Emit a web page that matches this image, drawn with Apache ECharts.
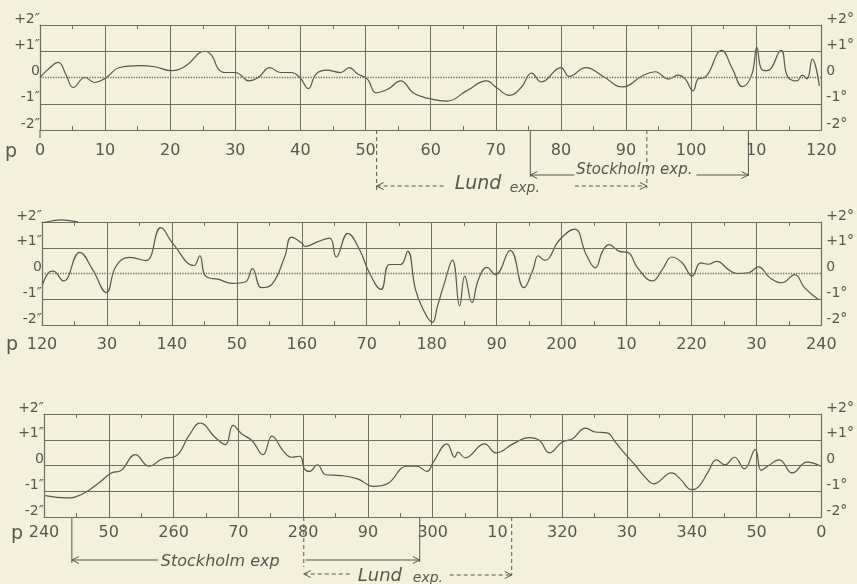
<!DOCTYPE html>
<html><head><meta charset="utf-8">
<script src="https://cdn.jsdelivr.net/npm/echarts@6/dist/echarts.min.js"></script>
<style>html,body{margin:0;padding:0;background:#f3f1da;}#c{width:857px;height:584px;}</style>
</head><body><div id="c"></div>
<script>
// ---- data ----
const p1x=[0,1.2,2.8,4,5.1,6.9,8.4,10.2,12.2,15.3,17.6,20.2,22.4,25.3,26.4,27.4,28.5,30.0,31.0,32.0,33.5,35.3,36.9,38.6,39.9,41.2,42.4,44.0,46.2,47.5,48.8,50.3,51.6,53.4,55.4,57.4,59.9,62.5,65.5,68.6,70.1,72.1,73.9,75.5,77.0,80.0,81.3,83.8,86.4,89.5,92.5,94.5,96.5,98.0,99.1,100.3,101.1,102.1,104.7,106.3,107.9,109.3,110.1,110.8,111.7,113.8,114.8,116.2,117.1,117.8,118.6,119.7];
const p1y=[0,0.3,0.58,0.1,-0.38,0,-0.19,0,0.38,0.45,0.41,0.26,0.45,1.0,0.83,0.32,0.19,0.19,0.06,-0.13,0,0.38,0.19,0.19,0,-0.42,0.13,0.28,0.19,0.38,0.13,-0.06,-0.58,-0.45,-0.13,-0.6,-0.81,-0.9,-0.51,-0.13,-0.38,-0.68,-0.38,0.17,-0.17,0.38,0.04,0.38,0.06,-0.36,0.06,0.22,-0.06,0.09,-0.06,-0.51,-0.05,0,1.03,0.35,-0.35,0.1,1.15,0.32,0.26,1.03,0.04,-0.13,0.09,-0.05,0.7,-0.32];
const p2x=[120.1,121.0,121.7,123.3,125.8,127.8,129.9,131.4,133.5,136.0,138.3,140.1,143.4,144.3,145.2,147.2,149.3,151.3,152.4,153.8,155.4,157.4,158.4,160.0,160.5,162.5,164.3,165.3,167.1,168.9,170.4,172.2,173.5,175.2,176.3,177.5,178.6,180.1,180.9,181.9,183.2,184.3,185.1,186.2,187.2,188.5,189.8,192.1,194.2,195.6,196.4,197.4,199.7,202.0,203.8,205.2,206.3,207.3,208.9,210.2,211.7,214.0,215.5,217.0,218.6,220.1,221.4,222.6,223.9,225.7,227.0,228.8,230.3,232.1,233.9,235.9,237.4,239.5];
const p2y=[-0.42,0.03,0.09,-0.29,0.82,0.15,-0.74,0.28,0.63,0.5,1.78,1.18,0.31,0.69,-0.1,-0.23,-0.38,-0.33,0.19,-0.55,-0.42,0.67,1.41,1.18,1.05,1.24,1.37,0.64,1.56,0.92,0.03,-0.62,0.35,0.35,0.86,-0.62,-1.35,-1.9,-1.26,-0.42,0.52,-1.26,-0.1,-1.13,-0.23,0.24,-0.04,0.9,-0.55,0.15,0.69,0.51,1.31,1.72,0.73,0.22,0.86,1.12,0.86,0.82,0.22,-0.29,0.15,0.64,0.41,-0.1,0.41,0.36,0.47,0.15,0,0.03,0.26,-0.17,-0.36,-0.04,-0.55,-1.0];
const p2topX=[120.2,121.5,123,124.5,125.6];
const p2topY=[1.98,2.04,2.08,2.04,2.0];
const p3x=[240.2,243.5,246.0,248.6,250.4,251.9,254.1,256.2,258.3,260.3,262.4,264.1,266.4,268.0,269.2,270.5,272.1,273.8,275.2,276.9,278.2,279.5,280.2,281.0,282.2,283.5,285.8,288.4,290.9,293.0,296.0,297.6,299.1,300.1,302.2,303.4,303.9,305.0,308.0,309.8,312.4,314.9,316.5,318.0,320.0,321.6,323.6,325.1,326.9,328.2,329.7,331.3,332.8,334.1,336.9,338.2,340.0,341.0,342.5,343.8,345.1,346.6,348.1,349.8,350.7,351.7,353.5,355.5,357.8,359.9];
const p3y=[-1.17,-1.26,-1.1,-0.65,-0.29,-0.19,0.42,-0.03,0.26,0.36,1.17,1.65,1.1,0.81,1.56,1.23,0.97,0.42,1.14,0.58,0.32,0.36,-0.13,-0.23,0.03,-0.36,-0.39,-0.52,-0.81,-0.71,-0.03,-0.03,-0.23,0.13,0.84,0.32,0.52,0.3,0.84,0.49,0.84,1.08,0.97,0.49,0.91,1.04,1.45,1.3,1.27,0.91,0.45,0,-0.45,-0.71,-0.29,-0.52,-0.94,-0.84,-0.26,0.22,0.03,0.32,-0.13,0.62,-0.19,-0.03,0.22,-0.29,0.13,-0.03];
const xTickLabels=[
 ['0','10','20','30','40','50','60','70','80','90','100','10','120'],
 ['120','30','140','50','160','70','180','90','200','10','220','30','240'],
 ['240','50','260','70','280','90','300','10','320','30','340','50','0']];
const yLeftLabels={'2':'+2″','1':'+1″','0':'0','-1':'-1″','-2':'-2″'};
const yRightLabels={'2':'+2°','1':'+1°','0':'0','-1':'-1°','-2':'-2°'};
const gridLevels=[1,0,-1];
const zeroLineType=['dotted','dotted','solid'];
// annotation ranges in p units
const stockholm1=[75.3,108.8], lund1=[51.7,93.2];
const stockholm3=[244.3,298.0], lund3=[280.1,312.2];

const INK='#57574d', GRID='#6e6e63', FONT='DejaVu Sans';
const grids=[{left:40,right:30,top:25,height:105},{left:42,right:30,top:222,height:103},{left:44,right:30,top:414,height:103}];
const labelMargins=[13,12,8];
const xAxes=[],yAxes=[],series=[];
const pairs=(xs,ys)=>xs.map((x,i)=>[x,ys[i]]);
const datas=[pairs(p1x,p1y),pairs(p2x,p2y),pairs(p3x,p3y)];
for(let i=0;i<3;i++){
  const mn=120*i;
  xAxes.push({gridIndex:i,type:'value',min:mn,max:mn+120,interval:10,
    axisLine:{show:true,onZero:false,lineStyle:{color:GRID,width:1.2}},
    axisTick:{show:true,inside:true,length:0},
    minorTick:{show:true,splitNumber:2,length:4,lineStyle:{color:GRID}},
    splitLine:{show:true,lineStyle:{color:GRID,width:1}},
    axisLabel:{margin:labelMargins[i],fontSize:16,color:INK,fontFamily:FONT,
      formatter:v=>xTickLabels[i][Math.round((v-mn)/10)]}});
}
for(let i=0;i<3;i++){
  const mn=120*i;
  xAxes.push({gridIndex:i,type:'value',position:'top',min:mn,max:mn+120,interval:10,
    axisLine:{show:true,onZero:false,lineStyle:{color:GRID,width:1.2}},
    axisTick:{show:true,inside:true,length:0},
    minorTick:{show:true,splitNumber:2,length:4,lineStyle:{color:GRID}},
    splitLine:{show:false},axisLabel:{show:false}});
}
for(let i=0;i<3;i++){
  yAxes.push({gridIndex:i,type:'value',min:-2,max:2,interval:1,
    axisLine:{show:true,onZero:false,lineStyle:{color:GRID,width:1.2}},axisTick:{show:false},
    splitLine:{show:false},
    axisLabel:{margin:0,fontSize:14,color:INK,fontFamily:FONT,verticalAlign:'bottom',lineHeight:12,
      formatter:v=>yLeftLabels[String(v)]}});
}
for(let i=0;i<3;i++){
  yAxes.push({gridIndex:i,type:'value',position:'right',min:-2,max:2,interval:1,
    axisLine:{show:true,onZero:false,lineStyle:{color:GRID,width:1.2}},axisTick:{show:false},
    splitLine:{show:false},
    axisLabel:{margin:5,fontSize:14,color:INK,fontFamily:FONT,verticalAlign:'bottom',lineHeight:12,
      formatter:v=>yRightLabels[String(v)]}});
}
for(let i=0;i<3;i++){
  series.push({type:'line',xAxisIndex:i,yAxisIndex:i,data:datas[i],smooth:0.45,showSymbol:false,
    lineStyle:{color:INK,width:1.2},silent:true,animation:false,
    markLine:{silent:true,symbol:'none',label:{show:false},animation:false,
      data:gridLevels.map(l=>({yAxis:l,lineStyle:{color:GRID,width:l===0&&zeroLineType[i]==='dotted'?1.3:1,type:l===0?zeroLineType[i]:'solid'}}))}});
}
series.push({type:'line',xAxisIndex:1,yAxisIndex:1,data:pairs(p2topX,p2topY),smooth:0.5,showSymbol:false,clip:false,
  lineStyle:{color:INK,width:1.2},silent:true,animation:false});

const chart=echarts.init(document.getElementById('c'),null,{renderer:'canvas'});
chart.setOption({backgroundColor:'#f3f1da',animation:false,grid:grids,xAxis:xAxes,yAxis:yAxes,series:series});

// annotations
const px=(i,v)=>chart.convertToPixel({xAxisIndex:i},v);
const py=(i,v)=>chart.convertToPixel({yAxisIndex:i},v);
const G=[];
function ln(x1,y1,x2,y2,dash){G.push({type:'line',silent:true,shape:{x1,y1,x2,y2},style:{stroke:INK,lineWidth:1,lineDash:dash?[4,3]:null}});}
function head(x,y,dir){G.push({type:'polyline',silent:true,shape:{points:[[x-dir*7,y-3.5],[x,y],[x-dir*7,y+3.5]]},style:{stroke:INK,lineWidth:1,fill:null}});}
function txt(x,y,t,size,align){G.push({type:'text',silent:true,x,y,style:{text:t,fill:INK,font:'italic '+size+'px '+FONT,textAlign:align||'left',textVerticalAlign:'middle'}});}
function ptxt(x,y){G.push({type:'text',silent:true,x,y,style:{text:'p',fill:INK,font:'19px '+FONT,textAlign:'center',textVerticalAlign:'middle'}});}

// panel 1
{
  const b=py(0,-2);
  const sa=px(0,stockholm1[0]), sb=px(0,stockholm1[1]);
  ln(sa,b,sa,b+47); ln(sb,b,sb,b+46);
  ln(sa,b+45,sa+44,b+45); head(sa,b+45,-1);
  txt(sa+46,b+40,'Stockholm exp.',15);
  ln(sb-52,b+45,sb,b+45); head(sb,b+45,1);
  const la=px(0,lund1[0]), lb=px(0,lund1[1]);
  ln(la,b,la,b+60,true); ln(lb,b,lb,b+58,true);
  ln(la,b+56,la+70,b+56,true); head(la,b+56,-1);
  txt(la+78,b+54,'Lund',19); txt(la+133,b+58,'exp.',14);
  ln(lb-72,b+56,lb,b+56,true); head(lb,b+56,1);
  ln(px(0,0),b,px(0,0),b+8);
  ptxt(11,b+22);
}
// panel 2
{ const b=py(1,-2); ptxt(12,b+20); }
// panel 3
{
  const b=py(2,-2);
  ptxt(17,b+17);
  const sa=px(2,stockholm3[0]), sb=px(2,stockholm3[1]);
  ln(sa,b,sa,b+46); ln(sb,b,sb,b+45);
  ln(sa,b+43,sa+86,b+43); head(sa,b+43,-1);
  txt(sa+89,b+45,'Stockholm exp',16);
  ln(sb-114,b+43,sb,b+43); head(sb,b+43,1);
  const la=px(2,lund3[0]), lb=px(2,lund3[1]);
  ln(la,b,la,b+50,true); ln(lb,b,lb,b+58,true);
  ln(la,b+57,la+48,b+57,true); head(la,b+57,-1);
  txt(la+54,b+59,'Lund',18); txt(la+109,b+61,'exp.',14);
  ln(lb-62,b+58,lb,b+58,true); head(lb,b+58,1);
}
chart.setOption({graphic:G});
</script></body></html>
